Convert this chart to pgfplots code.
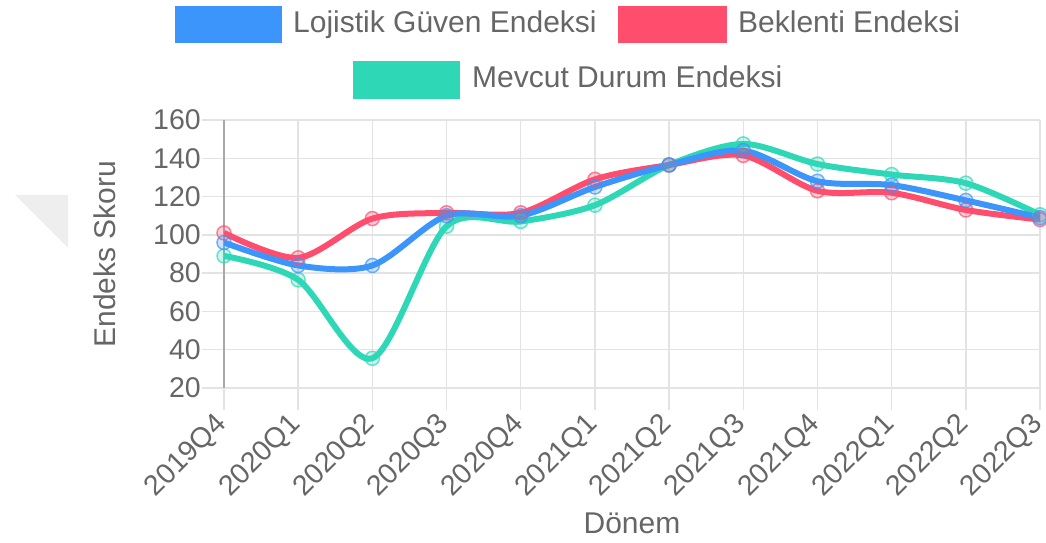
\documentclass[border=0pt]{standalone}
\usepackage{fontspec}
\setmainfont{Liberation Sans}
\usepackage{pgfplots}
\pgfplotsset{compat=1.18}

\definecolor{lgblue}{HTML}{3B95FB}
\definecolor{bkred}{HTML}{FF4D6D}
\definecolor{mdgreen}{HTML}{2ED8B6}
\definecolor{txtgray}{HTML}{666666}
\definecolor{gridgray}{HTML}{E3E3E3}
\definecolor{axisgray}{HTML}{A8A8A8}

\newcommand{\bigfont}{\fontsize{30}{36}\selectfont}
\newcommand{\tickfont}{\fontsize{28.5}{34}\selectfont}

\begin{document}
\begin{tikzpicture}
\useasboundingbox (0pt,0pt) rectangle (1046pt,543pt);

% faint shadow shape at the left edge
\fill[gray!13] (15pt,348pt) -- (68pt,348pt) -- (68pt,295pt) -- cycle;

\begin{axis}[
    at={(224pt,155pt)}, anchor=south west,
    scale only axis, width=816pt, height=268pt,
    xmin=0, xmax=11, ymin=20, ymax=160,
    xtick={0,...,11},
    xticklabels={2019Q4,2020Q1,2020Q2,2020Q3,2020Q4,2021Q1,2021Q2,2021Q3,2021Q4,2022Q1,2022Q2,2022Q3},
    ytick={20,40,...,160},
    /pgf/number format/assume math mode=true,
    grid=major,
    major grid style={draw=gridgray, line width=1.5pt},
    axis x line*=bottom, axis y line*=left,
    x axis line style={-, draw=gridgray, line width=1.8pt},
    y axis line style={-, draw=axisgray, line width=1.8pt},
    tick align=outside, major tick length=22pt,
    tick style={draw=gridgray, line width=1.5pt},
    ticklabel style={text=txtgray, font=\tickfont},
    yticklabel style={anchor=east, inner sep=1pt},
    xticklabel style={rotate=45, anchor=east, inner sep=2pt},
    xticklabel shift=9pt,
    xlabel={Dönem}, ylabel={Endeks Skoru},
    label style={text=txtgray, font=\bigfont},
    xlabel style={at={(axis description cs:0.5,-0.5037)}, anchor=center},
    ylabel style={at={(axis description cs:-0.1458,0.5)}, anchor=center},
    every axis plot/.append style={smooth, line width=6pt, mark=*, mark size=7pt},
]
% Mevcut Durum Endeksi
\addplot[mdgreen, mark options={fill=mdgreen, fill opacity=0.25, draw opacity=0.7, line width=1.5pt}]
    coordinates {(0,89) (1,76.5) (2,35.5) (3,104.5) (4,107) (5,115.5) (6,136.5) (7,147.5) (8,137) (9,131.5) (10,127) (11,110.5)};
% Beklenti Endeksi
\addplot[bkred, mark options={fill=bkred, fill opacity=0.25, draw opacity=0.7, line width=1.5pt}]
    coordinates {(0,101) (1,88) (2,108.5) (3,111.5) (4,111.5) (5,129) (6,136.5) (7,141.5) (8,123) (9,122) (10,113) (11,108)};
% Lojistik Güven Endeksi
\addplot[lgblue, mark options={fill=lgblue, fill opacity=0.25, draw opacity=0.7, line width=1.5pt}]
    coordinates {(0,96) (1,84) (2,84) (3,110) (4,110) (5,125) (6,136.5) (7,144) (8,128) (9,126) (10,118) (11,109)};
\end{axis}

% legend
\fill[lgblue] (175pt,500pt) rectangle (282pt,537pt);
\node[anchor=base west, inner sep=0pt, text=txtgray, font=\bigfont] at (293pt,510pt) {Lojistik Güven Endeksi};
\fill[bkred] (618pt,500pt) rectangle (727pt,537pt);
\node[anchor=base west, inner sep=0pt, text=txtgray, font=\bigfont] at (738pt,510pt) {Beklenti Endeksi};
\fill[mdgreen] (353pt,444pt) rectangle (460pt,482pt);
\node[anchor=base west, inner sep=0pt, text=txtgray, font=\bigfont] at (472pt,455pt) {Mevcut Durum Endeksi};
\end{tikzpicture}
\end{document}
